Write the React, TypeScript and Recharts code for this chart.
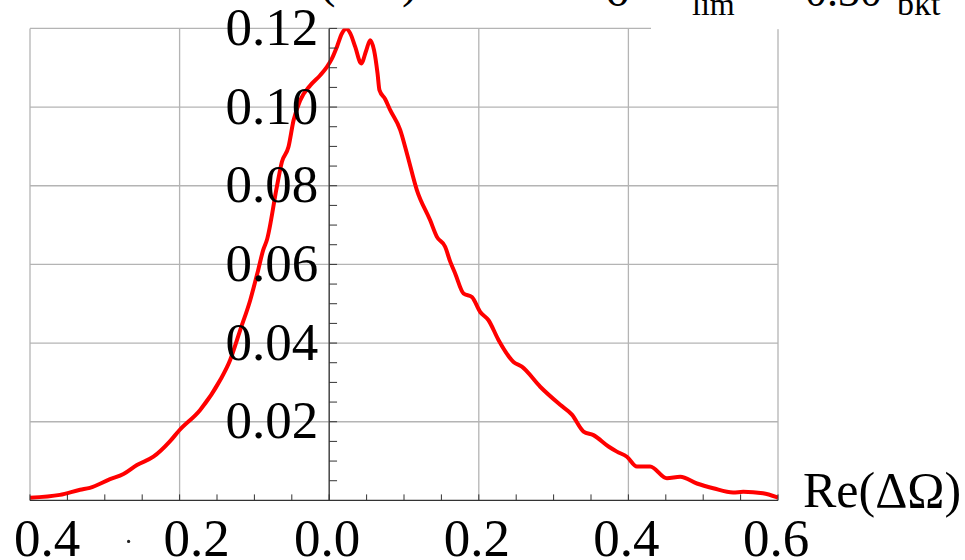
import React from 'react';
import { LineChart, Line, XAxis, YAxis, CartesianGrid, ReferenceLine } from 'recharts';

const reDeltaOmega = [
  -0.4, -0.36, -0.333, -0.32, -0.293, -0.275, -0.257, -0.235, -0.213, -0.2,
  -0.1725, -0.1457, -0.1324, -0.119, -0.1056, -0.0949, -0.0882, -0.0833, -0.07, -0.0632,
  -0.0544, -0.0477, -0.0388, -0.0254, -0.012, -0.003, 0.0036, 0.0103, 0.017, 0.0227,
  0.028, 0.0348, 0.0428, 0.0495, 0.0548, 0.06, 0.0646, 0.0672, 0.0749, 0.0816,
  0.0949, 0.1039, 0.1172, 0.135, 0.144, 0.155, 0.1618, 0.1684, 0.1796, 0.1908,
  0.2019, 0.213, 0.2263, 0.2464, 0.2576, 0.2821, 0.3088, 0.3245, 0.34, 0.3533,
  0.3734, 0.3846, 0.398, 0.4114, 0.429, 0.4515, 0.4693, 0.4916, 0.5134, 0.54,
  0.5535, 0.58, 0.5985, 0.6,
];
const density = [
  0.0007, 0.0014, 0.0027, 0.0032, 0.0054, 0.0067, 0.009, 0.0111, 0.015, 0.0179,
  0.023, 0.0306, 0.0357, 0.0433, 0.0509, 0.0586, 0.0637, 0.0662, 0.0797, 0.0861,
  0.0899, 0.0966, 0.1017, 0.1055, 0.1081, 0.1102, 0.1123, 0.1153, 0.1187, 0.1199,
  0.1188, 0.1153, 0.1111, 0.1144, 0.117, 0.1144, 0.1086, 0.1043, 0.102, 0.0992,
  0.0942, 0.0882, 0.0789, 0.0712, 0.067, 0.0645, 0.0607, 0.0577, 0.0526, 0.0517,
  0.0479, 0.0458, 0.0408, 0.0352, 0.034, 0.0289, 0.0243, 0.0218, 0.0175, 0.0166,
  0.0137, 0.0124, 0.0111, 0.0086, 0.0086, 0.0056, 0.006, 0.0043, 0.0031, 0.002,
  0.0022, 0.0018, 0.0008, 0.0007,
];

const xMinorTicks = [
  -0.4, -0.35, -0.3, -0.25, -0.2, -0.15, -0.1, -0.05, 0, 0.05, 0.1, 0.15, 0.2, 0.25,
  0.3, 0.35, 0.4, 0.45, 0.5, 0.55, 0.6,
];
const xLabelTicks = [-0.4, -0.2, 0, 0.2, 0.4, 0.6];
const xLabelText = ['−0.4', '−0.2', '0.0', '0.2', '0.4', '0.6'];

const yMinorTicks = [
  0.005, 0.01, 0.015, 0.02, 0.025, 0.03, 0.035, 0.04, 0.045, 0.05, 0.055, 0.06,
  0.065, 0.07, 0.075, 0.08, 0.085, 0.09, 0.095, 0.1, 0.105, 0.11, 0.115, 0.12,
];
const yLabelTicks = [0.02, 0.04, 0.06, 0.08, 0.1, 0.12];
const yLabelText = ['0.02', '0.04', '0.06', '0.08', '0.10', '0.12'];

const data = reDeltaOmega.map((x, i) => ({ x, p: density[i] }));

const FONT = '"Liberation Serif", "Times New Roman", Times, serif';
const AXIS = '#333333';
const GRID = '#b4b4b4';

const XTick = (props: any) => {
  const { x, y, payload } = props;
  const v = payload.value;
  const idx = xLabelTicks.findIndex((t) => Math.abs(t - v) < 1e-9);
  let label: React.ReactNode = null;
  if (idx >= 0) {
    const txt = xLabelText[idx];
    if (txt.startsWith('−')) {
      label = (
        <g>
          <circle cx={x - 51} cy={y + 41} r={1.6} fill="#222" />
          <text x={x + 17} y={y + 56} textAnchor="middle" fontFamily={FONT} fontSize={53} fill="#000">
            {txt.slice(1)}
          </text>
        </g>
      );
    } else {
      label = (
        <text x={x - 2} y={y + 56} textAnchor="middle" fontFamily={FONT} fontSize={53} fill="#000">
          {txt}
        </text>
      );
    }
  }
  return (
    <g>
      <line x1={x} x2={x} y1={y} y2={y - 6} stroke={AXIS} strokeWidth={1} />
      {label}
    </g>
  );
};

const yLabelContent = (txt: string) => (props: any) => {
  const vb = props.viewBox || {};
  return (
    <text x={vb.x - 11} y={vb.y + 16.5} textAnchor="end" fontFamily={FONT} fontSize={53} fill="#000">
      {txt}
    </text>
  );
};

const xTitleContent = (props: any) => {
  const vb = props.viewBox || {};
  return (
    <text x={vb.x + vb.width + 25} y={vb.y + 6.6} textAnchor="start" fontFamily={FONT} fontSize={50} fill="#000">
      Re(ΔΩ)
    </text>
  );
};

export default function App() {
  return (
    <div style={{ position: 'absolute', left: 0, top: 0, width: 965, height: 560, background: '#fff' }}>
      <LineChart
        width={965}
        height={560}
        data={data}
        margin={{ top: 28.4, right: 187, bottom: 29.6, left: 30 }}
      >
        <CartesianGrid
          xAxisId="main"
          yAxisId="main"
          stroke={GRID}
          strokeWidth={1.3}
          verticalValues={xLabelTicks}
          horizontalValues={yLabelTicks}
        />
        <XAxis
          xAxisId="main"
          dataKey="x"
          type="number"
          domain={[-0.4, 0.6]}
          ticks={xMinorTicks}
          interval={0}
          tick={<XTick />}
          tickLine={false}
          tickSize={0}
          tickMargin={0}
          axisLine={{ stroke: AXIS, strokeWidth: 1.2 }}
          height={30}
          allowDataOverflow
          label={{ value: 'Re(ΔΩ)', content: xTitleContent }}
        />
        <YAxis yAxisId="main" type="number" domain={[0, 0.12]} ticks={yLabelTicks} hide allowDataOverflow />
        <Line
          xAxisId="main"
          yAxisId="main"
          dataKey="p"
          type="monotone"
          stroke="#ff0000"
          strokeWidth={4}
          dot={false}
          isAnimationActive={false}
        />
        <ReferenceLine xAxisId="main" yAxisId="main" x={0} stroke={AXIS} strokeWidth={1.2} />
        {yMinorTicks.map((v) => {
          const idx = yLabelTicks.findIndex((t) => Math.abs(t - v) < 1e-9);
          return (
            <ReferenceLine
              key={'yt' + v}
              xAxisId="main"
              yAxisId="main"
              segment={[
                { x: 0, y: v },
                { x: 0.0105, y: v },
              ]}
              stroke={AXIS}
              strokeWidth={1}
              label={idx >= 0 ? { value: yLabelText[idx], content: yLabelContent(yLabelText[idx]) } : undefined}
            />
          );
        })}
      </LineChart>
      <svg
        width={965}
        height={560}
        style={{ position: 'absolute', left: 0, top: 0, pointerEvents: 'none' }}
      >
        <rect x={651} y={0} width={314} height={29.2} fill="#fff" />
        <text x={418} y={-3} textAnchor="end" fontFamily={FONT} fontSize={48} fill="#000">P(ΔΩ)</text>
        <text x={606} y={6} fontFamily={FONT} fontSize={46} fill="#000">σ</text>
        <text x={692} y={15} fontFamily={FONT} fontSize={32} fill="#000">lim</text>
        <text x={805} y={6} fontFamily={FONT} fontSize={44} fill="#000">0.30</text>
        <text x={897} y={15} fontFamily={FONT} fontSize={34} fill="#000">bkt</text>
      </svg>
    </div>
  );
}
